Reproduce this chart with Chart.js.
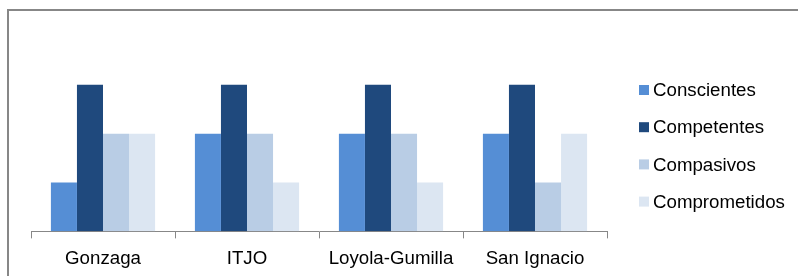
<!DOCTYPE html>
<html>
<head>
<meta charset="utf-8">
<script src="https://cdn.jsdelivr.net/npm/chart.js@4"></script>
<style>
  html, body { margin: 0; padding: 0; background: #fff; overflow: hidden; }
  #wrap { position: relative; width: 798px; height: 276px; }
  #frame { position: absolute; left: 7px; top: 9px; width: 900px; height: 400px; border: 2px solid #878787; }
  #chart { position: absolute; left: 0; top: 0; }
</style>
</head>
<body>
<div id="wrap">
  <div id="frame"></div>
  <canvas id="chart" width="798" height="276"></canvas>
</div>
<script>
const categories = ["Gonzaga", "ITJO", "Loyola-Gumilla", "San Ignacio"];
const seriesNames = ["Conscientes", "Competentes", "Compasivos", "Comprometidos"];
const conscientes = [1, 2, 2, 2];
const competentes = [3, 3, 3, 3];
const compasivos = [2, 2, 2, 1];
const comprometidos = [2, 1, 1, 2];
const seriesColors = ["#558ed5", "#1f497d", "#b9cde5", "#dce6f2"];

const fontFamily = "'Liberation Sans', Arial, sans-serif";

// legend drawn on the right, one row per dataset
const sideLegend = {
  id: "sideLegend",
  afterDraw(chart) {
    const ctx = chart.ctx;
    ctx.save();
    ctx.font = "18.7px " + fontFamily;
    ctx.textBaseline = "middle";
    ctx.textAlign = "left";
    chart.data.datasets.forEach((ds, i) => {
      const y = 90 + i * 37.2;
      ctx.fillStyle = ds.backgroundColor;
      ctx.fillRect(639, y - 5, 10, 10);
      ctx.fillStyle = "#000";
      ctx.fillText(ds.label, 653, y + 1);
    });
    ctx.restore();
  },
};

const values = [conscientes, competentes, compasivos, comprometidos];

new Chart(document.getElementById("chart"), {
  type: "bar",
  data: {
    labels: categories,
    datasets: seriesNames.map((name, i) => ({
      label: name,
      data: values[i],
      backgroundColor: seriesColors[i],
      borderWidth: 0,
      categoryPercentage: 0.7235,
      barPercentage: 1,
    })),
  },
  options: {
    responsive: false,
    animation: false,
    devicePixelRatio: 1,
    layout: {
      padding: { left: 31, right: 191, top: 36, bottom: -2.8 },
    },
    plugins: {
      legend: { display: false },
      tooltip: { enabled: false },
    },
    scales: {
      x: {
        grid: {
          display: true,
          drawOnChartArea: false,
          drawTicks: true,
          tickLength: 7,
          color: "#878787",
          lineWidth: 1,
        },
        border: { display: true, color: "#878787", width: 1 },
        ticks: {
          color: "#000",
          padding: 9,
          font: { family: fontFamily, size: 18.7 },
          maxRotation: 0,
        },
      },
      y: {
        display: false,
        min: 0,
        max: 4,
      },
    },
  },
  plugins: [sideLegend],
});
</script>
</body>
</html>
